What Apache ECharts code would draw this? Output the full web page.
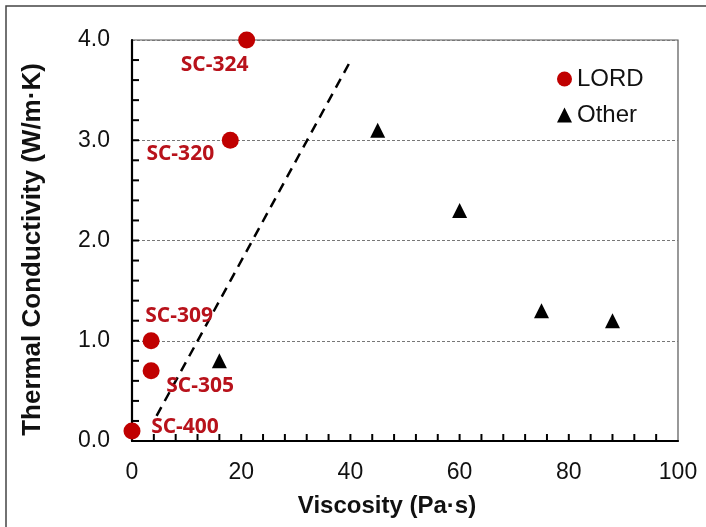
<!DOCTYPE html>
<html><head><meta charset="utf-8">
<script src="https://cdn.jsdelivr.net/npm/echarts@6/dist/echarts.min.js"></script>
<style>html,body{margin:0;padding:0;background:#fff}#c{width:706px;height:527px}</style>
</head><body><div id="c"></div>
<script>
// Data
var lordNames = ['SC-400', 'SC-305', 'SC-309', 'SC-320', 'SC-324'];
var lordX = [0, 3.5, 3.5, 18, 21];
var lordY = [0.1, 0.7, 1.0, 3.0, 4.0];
var otherX = [16, 45, 60, 75, 88];
var otherY = [0.8, 3.1, 2.3, 1.3, 1.2];
var trendX = [4.5, 40.3];
var trendY = [0.25, 3.82];
var xTicks = [0, 20, 40, 60, 80, 100];
var yTicks = ['0.0', '1.0', '2.0', '3.0', '4.0'];
var xTickMarks = [4, 8, 12, 16, 20, 24, 28, 32, 36, 40, 44, 48, 52, 56, 60, 64, 68, 72, 76, 80, 84, 88, 92, 96];
var yTickMarks = [0.2, 0.4, 0.6, 0.8, 1.0, 1.2, 1.4, 1.6, 1.8, 2.0, 2.2, 2.4, 2.6, 2.8, 3.0, 3.2, 3.4, 3.6, 3.8];

// Layout (label offsets in px, not data)
var labelOffsets = [[53, -4], [49, 15], [28, -25], [-50, 14], [-32, 25]];

var red = '#C00000';
var lordData = lordX.map(function (x, i) {
  return {
    value: [x, lordY[i]], name: lordNames[i],
    label: { show: true, formatter: lordNames[i], offset: labelOffsets[i], position: 'inside' }
  };
});
var otherData = otherX.map(function (x, i) { return [x, otherY[i]]; });
var trendData = trendX.map(function (x, i) { return [x, trendY[i]]; });
var xTickData = xTickMarks.map(function (v) { return [v, 0]; });
var yTickData = yTickMarks.map(function (v) { return [0, v]; });

var tickFont = { fontFamily: 'Liberation Sans', fontSize: 23, color: '#111' };
var chart = echarts.init(document.getElementById('c'));
chart.setOption({
  animation: false,
  backgroundColor: '#fff',
  graphic: [{
    type: 'rect', shape: { x: 6, y: 6, width: 760, height: 560 },
    style: { fill: 'none', stroke: '#444', lineWidth: 1.5 }, silent: true, z: 100
  }],
  grid: { left: 132, right: 28, top: 40, bottom: 86, show: true, borderColor: '#555', borderWidth: 1.2 },
  legend: {
    data: ['LORD', 'Other'], orient: 'vertical', left: 552, top: 62,
    itemWidth: 15, itemHeight: 15, itemGap: 12,
    textStyle: { fontFamily: 'Liberation Sans', fontSize: 24, color: '#111', lineHeight: 24 }
  },
  xAxis: {
    type: 'value', min: 0, max: 100, interval: 20,
    name: 'Viscosity (Pa·s)', nameLocation: 'middle', nameGap: 53,
    nameTextStyle: { fontFamily: 'Liberation Sans', fontWeight: 'bold', fontSize: 24, color: '#111', padding: [0, 36, 0, 0] },
    axisLine: { show: true, onZero: false, lineStyle: { color: '#000', width: 2.2 } },
    axisTick: { show: false },
    axisLabel: Object.assign({ margin: 20,
      formatter: function (v) { return xTicks.indexOf(v) >= 0 ? String(v) : ''; } }, tickFont),
    splitLine: { show: false }
  },
  yAxis: {
    type: 'value', min: 0, max: 4, interval: 1,
    name: 'Thermal Conductivity (W/m·K)', nameLocation: 'middle', nameGap: 86,
    nameTextStyle: { fontFamily: 'Liberation Sans', fontWeight: 'bold', fontSize: 26, color: '#111', padding: [0, 18, 0, 0] },
    axisLine: { show: true, onZero: false, lineStyle: { color: '#000', width: 2.2 } },
    axisTick: { show: false },
    axisLabel: Object.assign({ margin: 22,
      formatter: function (v) { return yTicks[Math.round(v)]; } }, tickFont),
    splitLine: { show: true, lineStyle: { color: '#777', type: [3, 2], width: 1 } }
  },
  series: [
    {
      name: 'xticks', type: 'scatter', data: xTickData, symbol: 'rect', symbolSize: [2, 7],
      symbolOffset: [0, -3.5], clip: false, silent: true, z: 2,
      itemStyle: { color: '#000', opacity: 1 }
    },
    {
      name: 'yticks', type: 'scatter', data: yTickData, symbol: 'rect', symbolSize: [7, 2],
      symbolOffset: [3.5, 0], clip: false, silent: true, z: 2,
      itemStyle: { color: '#000', opacity: 1 }
    },
    {
      name: 'LORD', type: 'scatter', symbol: 'circle', symbolSize: 17, data: lordData, z: 5,
      itemStyle: { color: red, opacity: 1 },
      label: { fontFamily: 'Open Sans', fontWeight: 'bold', fontSize: 21, color: '#B8121B' }
    },
    {
      name: 'Other', type: 'scatter', symbol: 'triangle', symbolSize: 15, data: otherData, z: 5,
      itemStyle: { color: '#000', opacity: 1 }
    },
    {
      name: 'trend', type: 'line', data: trendData, symbol: 'none', z: 3,
      lineStyle: { color: '#000', width: 2.5, type: [10, 7] }
    }
  ]
});
</script></body></html>
